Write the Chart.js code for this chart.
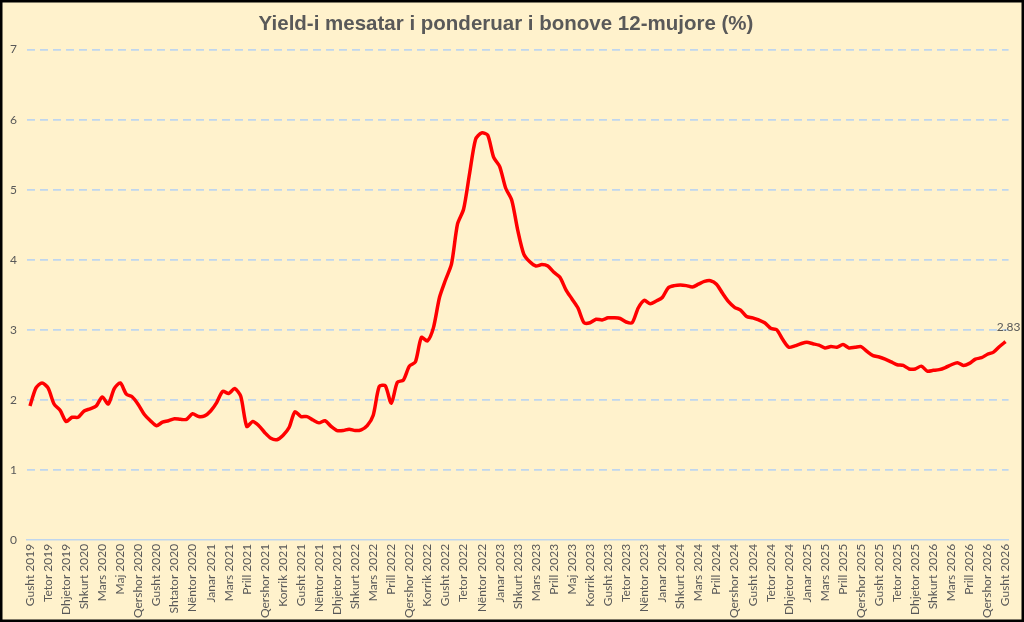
<!DOCTYPE html>
<html>
<head>
<meta charset="utf-8">
<script src="https://cdn.jsdelivr.net/npm/chart.js@4"></script>
<style>
  html, body { margin: 0; padding: 0; background: #FFF2CC; }
  #wrap { width: 1024px; height: 622px; position: relative; }
  canvas { display: block; }
</style>
</head>
<body>
<div id="wrap"><canvas id="c" width="1024" height="622"></canvas></div>
<script>
const titleText = "Yield-i mesatar i ponderuar i bonove 12-mujore (%)";

const periods = [
  "Gusht 2019","Gusht 2019","Shtator 2019",
  "Tetor 2019","Tetor 2019","Nëntor 2019",
  "Dhjetor 2019","Dhjetor 2019","Janar 2020",
  "Shkurt 2020","Shkurt 2020","Mars 2020",
  "Mars 2020","Prill 2020","Prill 2020",
  "Maj 2020","Maj 2020","Qershor 2020",
  "Qershor 2020","Korrik 2020","Korrik 2020",
  "Gusht 2020","Gusht 2020","Shtator 2020",
  "Shtator 2020","Tetor 2020","Tetor 2020",
  "Nëntor 2020","Nëntor 2020","Dhjetor 2020",
  "Janar 2021","Janar 2021","Shkurt 2021",
  "Mars 2021","Mars 2021","Prill 2021",
  "Prill 2021","Maj 2021","Maj 2021",
  "Qershor 2021","Qershor 2021","Korrik 2021",
  "Korrik 2021","Gusht 2021","Gusht 2021",
  "Gusht 2021","Shtator 2021","Tetor 2021",
  "Nëntor 2021","Nëntor 2021","Dhjetor 2021",
  "Dhjetor 2021","Janar 2022","Janar 2022",
  "Shkurt 2022","Shkurt 2022","Mars 2022",
  "Mars 2022","Prill 2022","Prill 2022",
  "Prill 2022","Maj 2022","Maj 2022",
  "Qershor 2022","Qershor 2022","Korrik 2022",
  "Korrik 2022","Gusht 2022","Gusht 2022",
  "Gusht 2022","Shtator 2022","Shtator 2022",
  "Tetor 2022","Tetor 2022","Nëntor 2022",
  "Nëntor 2022","Dhjetor 2022","Dhjetor 2022",
  "Janar 2023","Janar 2023","Shkurt 2023",
  "Shkurt 2023","Mars 2023","Mars 2023",
  "Mars 2023","Prill 2023","Prill 2023",
  "Prill 2023","Maj 2023","Maj 2023",
  "Maj 2023","Qershor 2023","Qershor 2023",
  "Korrik 2023","Korrik 2023","Gusht 2023",
  "Gusht 2023","Shtator 2023","Shtator 2023",
  "Tetor 2023","Tetor 2023","Nëntor 2023",
  "Nëntor 2023","Dhjetor 2023","Dhjetor 2023",
  "Janar 2024","Janar 2024","Shkurt 2024",
  "Shkurt 2024","Mars 2024","Mars 2024",
  "Mars 2024","Prill 2024","Prill 2024",
  "Prill 2024","Maj 2024","Maj 2024",
  "Qershor 2024","Qershor 2024","Korrik 2024",
  "Gusht 2024","Gusht 2024","Shtator 2024",
  "Tetor 2024","Tetor 2024","Nëntor 2024",
  "Dhjetor 2024","Dhjetor 2024","Janar 2025",
  "Janar 2025","Shkurt 2025","Shkurt 2025",
  "Mars 2025","Mars 2025","Prill 2025",
  "Prill 2025","Maj 2025","Maj 2025",
  "Qershor 2025","Qershor 2025","Korrik 2025",
  "Gusht 2025","Gusht 2025","Shtator 2025",
  "Tetor 2025","Tetor 2025","Nëntor 2025",
  "Dhjetor 2025","Dhjetor 2025","Janar 2026",
  "Shkurt 2026","Shkurt 2026","Mars 2026",
  "Mars 2026","Prill 2026","Prill 2026",
  "Prill 2026","Maj 2026","Maj 2026",
  "Qershor 2026","Korrik 2026","Korrik 2026",
  "Gusht 2026"
];

const yieldValues = [
  1.91,2.17,2.24,2.17,1.94,1.85,1.69,1.75,1.75,1.84,
  1.87,1.91,2.04,1.94,2.16,2.24,2.08,2.04,1.93,1.79,
  1.70,1.63,1.68,1.70,1.73,1.72,1.72,1.80,1.76,1.77,
  1.84,1.96,2.12,2.09,2.16,2.05,1.62,1.69,1.63,1.53,
  1.45,1.43,1.49,1.60,1.83,1.76,1.76,1.71,1.67,1.70,
  1.62,1.56,1.56,1.58,1.56,1.57,1.63,1.78,2.19,2.20,
  1.95,2.25,2.28,2.48,2.54,2.89,2.84,3.03,3.46,3.71,
  3.94,4.51,4.72,5.23,5.72,5.81,5.78,5.46,5.33,5.02,
  4.85,4.42,4.08,3.97,3.91,3.93,3.91,3.82,3.75,3.57,
  3.44,3.31,3.10,3.10,3.15,3.14,3.17,3.17,3.16,3.11,
  3.10,3.31,3.42,3.37,3.41,3.46,3.60,3.63,3.64,3.63,
  3.61,3.65,3.69,3.70,3.65,3.52,3.40,3.32,3.28,3.19,
  3.17,3.14,3.10,3.02,3.00,2.86,2.75,2.77,2.80,2.82,
  2.80,2.78,2.74,2.76,2.75,2.79,2.74,2.75,2.76,2.69,
  2.63,2.61,2.58,2.54,2.50,2.49,2.44,2.44,2.48,2.41,
  2.42,2.43,2.46,2.50,2.53,2.49,2.52,2.58,2.60,2.65,
  2.68,2.76,2.83
];

const yTicks = [0,1,2,3,4,5,6,7];
const labelEvery = 3;

const textGray = '#595959';
const gridBlue = '#BFD6EE';
const axisFont = 'Lato, "Open Sans", sans-serif';

const bgPlugin = {
  id: 'bg',
  beforeDraw(chart) {
    const ctx = chart.ctx;
    ctx.save();
    ctx.fillStyle = '#FFF2CC';
    ctx.fillRect(0, 0, chart.width, chart.height);
    ctx.restore();
  },
  afterDraw(chart) {
    const ctx = chart.ctx;
    ctx.save();
    ctx.strokeStyle = '#000000';
    ctx.lineWidth = 2.5;
    ctx.strokeRect(1.25, 1.25, chart.width - 2.5, chart.height - 2.5);
    ctx.restore();
  }
};

const lastLabelPlugin = {
  id: 'lastLabel',
  afterDatasetsDraw(chart) {
    const meta = chart.getDatasetMeta(0);
    const n = yieldValues.length - 1;
    const pt = meta.data[n];
    if (!pt) return;
    const ctx = chart.ctx;
    ctx.save();
    ctx.font = '12px ' + axisFont;
    ctx.fillStyle = textGray;
    ctx.textAlign = 'center';
    ctx.textBaseline = 'middle';
    ctx.fillText(yieldValues[n].toFixed(2), pt.x + 3, pt.y - 15);
    ctx.restore();
  }
};

new Chart(document.getElementById('c'), {
  type: 'line',
  data: {
    labels: periods,
    datasets: [{
      data: yieldValues,
      borderColor: '#FF0000',
      borderWidth: 3.5,
      pointRadius: 0,
      tension: 0.25,
      fill: false
    }]
  },
  options: {
    responsive: false,
    animation: false,
    layout: { padding: { left: 0, right: 12, top: 2, bottom: 0 } },
    plugins: {
      legend: { display: false },
      tooltip: { enabled: false },
      title: {
        display: true,
        text: titleText,
        color: textGray,
        font: { family: '"Liberation Sans", Arial, sans-serif', size: 20.5, weight: 'bold' },
        padding: { top: 10, bottom: 13 }
      }
    },
    scales: {
      x: {
        offset: true,
        grid: { display: false, drawTicks: false },
        border: { display: true, color: gridBlue, width: 1.5 },
        ticks: {
          autoSkip: false,
          maxRotation: 90,
          minRotation: 90,
          padding: 4,
          color: textGray,
          font: { family: axisFont, size: 12 },
          callback: function(v, i) { return i % labelEvery === 0 ? periods[i] : ''; }
        }
      },
      y: {
        min: yTicks[0],
        max: yTicks[yTicks.length - 1],
        afterBuildTicks(scale) { scale.ticks = yTicks.map(v => ({ value: v })); },
        border: { display: false, dash: [8, 5] },
        grid: {
          drawTicks: false,
          color: ctx => ctx.tick && ctx.tick.value === 0 ? 'rgba(0,0,0,0)' : gridBlue,
          lineWidth: 1.8
        },
        ticks: {
          padding: 10,
          color: textGray,
          font: { family: axisFont, size: 12 }
        }
      }
    }
  },
  plugins: [bgPlugin, lastLabelPlugin]
});
</script>
</body>
</html>
